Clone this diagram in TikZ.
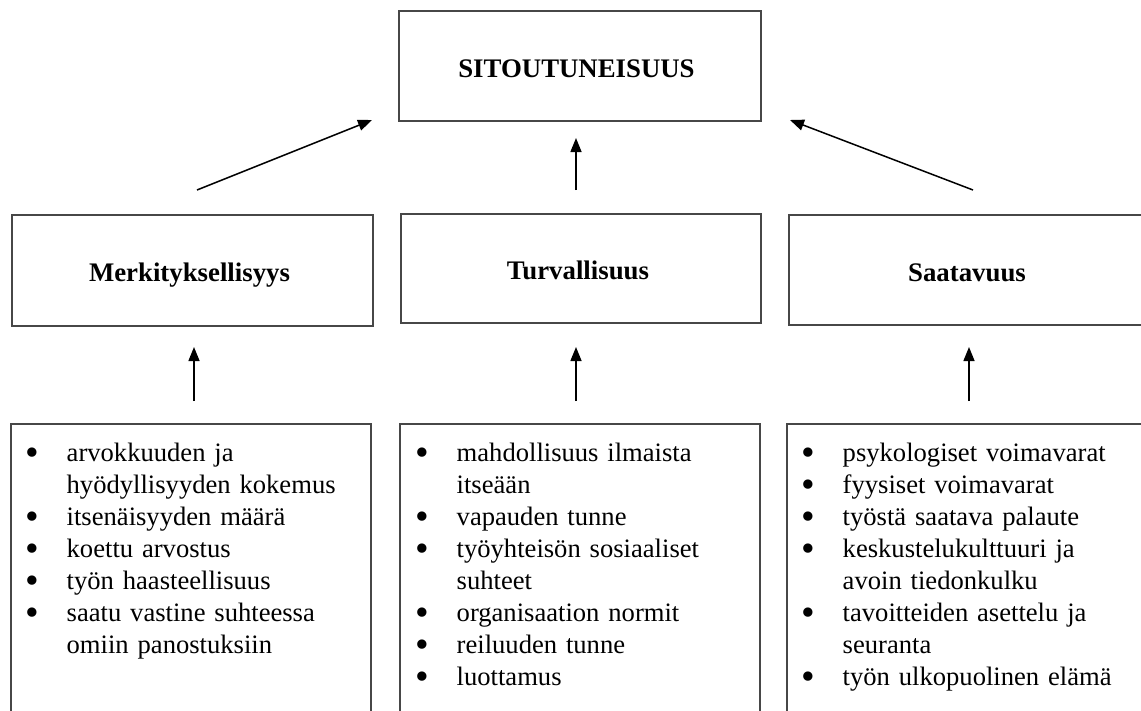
\documentclass[tikz,border=0pt]{standalone}
\usepackage{fontspec}
\setmainfont{Liberation Serif}
\usetikzlibrary{arrows.meta}
\tikzset{
  box/.style={draw=black!72, line width=1.4pt, inner sep=0pt},
  title/.style={font=\bfseries\fontsize{26.8}{32}\selectfont, anchor=base, inner sep=0pt},
  list/.style={anchor=north west, inner sep=0pt, text width=335pt, align=left, font=\fontsize{26.6}{32}\selectfont},
  arr/.style={line width=1.5pt, -{Triangle[length=14pt,width=11pt]}},
}
\newcommand\bigbul{\hspace*{-2.2pt}\smash{\raisebox{-4.5pt}{\fontsize{39}{32}\selectfont\textbullet}}}
\newcommand\bitem[1]{\makebox[39pt][l]{\bigbul}#1}
\newcommand\bcont[1]{\hspace*{39pt}#1}
\begin{document}
\begin{tikzpicture}[x=1pt,y=-1pt]
\useasboundingbox (0,0) rectangle (1141,710);
\clip (0,0) rectangle (1141,710);
% top
\node[box, minimum width=362pt, minimum height=110pt] (top) at (580,66) {};
\node[title] (toptxt) at (576.5,77) {SITOUTUNEISUUS};
% middle row
\node[box, minimum width=361pt, minimum height=111pt] (mer) at (192.5,270.5) {};
\node[title] (mertxt) at (189.5,281) {Merkityksellisyys};
\node[box, minimum width=360pt, minimum height=109pt] (tur) at (581,268.5) {};
\node[title] (turtxt) at (578,279) {Turvallisuus};
\node[box, minimum width=362pt, minimum height=110pt] (saa) at (970,270) {};
\node[title] (saatxt) at (967,281) {Saatavuus};
% bottom row
\node[box, minimum width=360pt, minimum height=336pt] (b1) at (191,592) {};
\node[box, minimum width=360pt, minimum height=336pt] (b2) at (580,592) {};
\node[box, minimum width=363pt, minimum height=336pt] (b3) at (968.5,592) {};
\node[list] (l1) at (27.5,441) {\rule{0pt}{20pt}\bitem{arvokkuuden ja}\\
\bcont{hyödyllisyyden kokemus}\\
\bitem{itsenäisyyden määrä}\\
\bitem{koettu arvostus}\\
\bitem{työn haasteellisuus}\\
\bitem{saatu vastine suhteessa}\\
\bcont{omiin panostuksiin}};
\node[list] (l2) at (417.5,441) {\rule{0pt}{20pt}\bitem{mahdollisuus ilmaista}\\
\bcont{itseään}\\
\bitem{vapauden tunne}\\
\bitem{työyhteisön sosiaaliset}\\
\bcont{suhteet}\\
\bitem{organisaation normit}\\
\bitem{reiluuden tunne}\\
\bitem{luottamus}};
\node[list] (l3) at (803.5,441) {\rule{0pt}{20pt}\bitem{psykologiset voimavarat}\\
\bitem{fyysiset voimavarat}\\
\bitem{työstä saatava palaute}\\
\bitem{keskustelukulttuuri ja}\\
\bcont{avoin tiedonkulku}\\
\bitem{tavoitteiden asettelu ja}\\
\bcont{seuranta}\\
\bitem{työn ulkopuolinen elämä}};
% arrow end points
\coordinate (m1) at (197,190);
\coordinate (t1) at (372,120);
\coordinate (m2) at (576,190);
\coordinate (t2) at (576,138);
\coordinate (m3) at (973,190);
\coordinate (t3) at (790,120);
\coordinate (s1) at (194,401);
\coordinate (e1) at (194,347);
\coordinate (s2) at (576,401);
\coordinate (e2) at (576,347);
\coordinate (s3) at (969,401);
\coordinate (e3) at (969,347);
\draw[arr] (m1) -- (t1);
\draw[arr] (m2) -- (t2);
\draw[arr] (m3) -- (t3);
\draw[arr] (s1) -- (e1);
\draw[arr] (s2) -- (e2);
\draw[arr] (s3) -- (e3);
\end{tikzpicture}
\end{document}
